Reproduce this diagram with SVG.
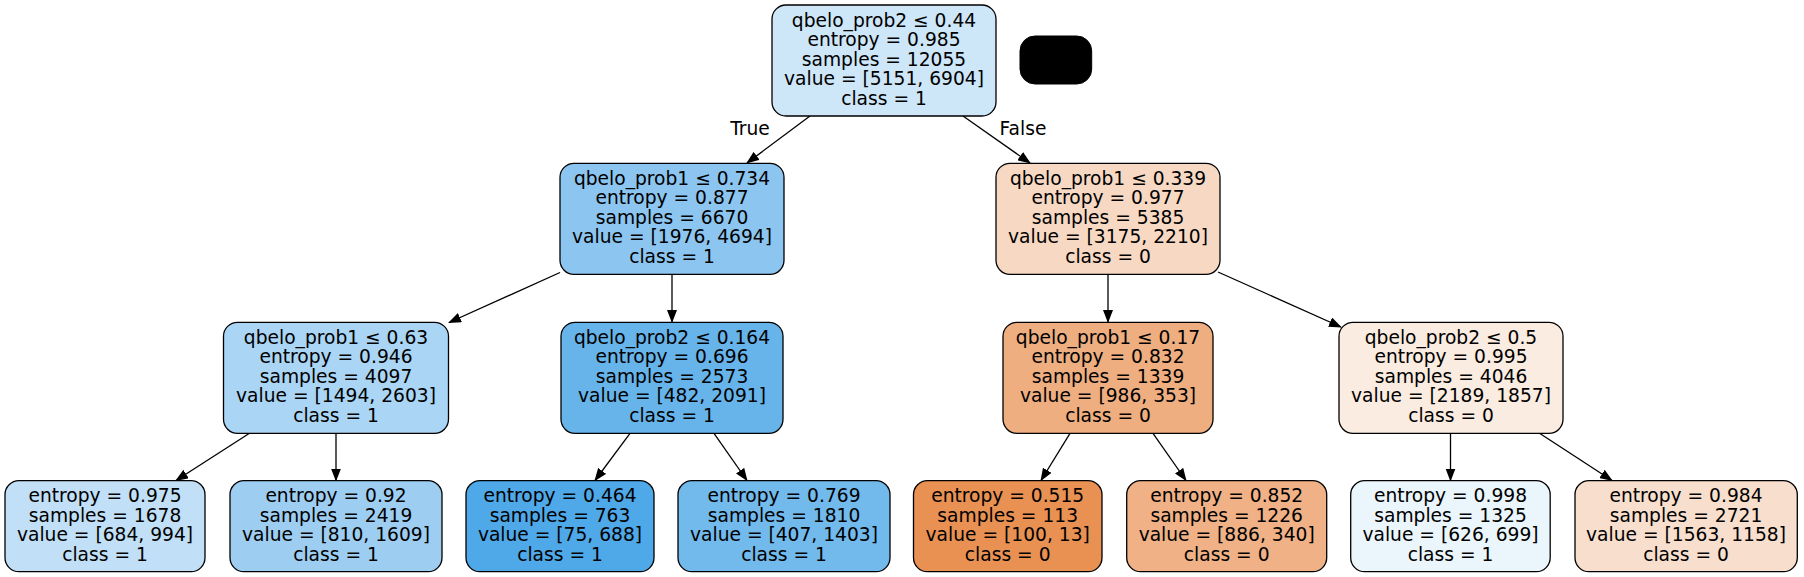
<svg xmlns="http://www.w3.org/2000/svg" width="1804" height="577" viewBox="0 0 1804 577">
<style>
.n{stroke:#000;stroke-width:1.3}
text{font-family:"DejaVu Sans","Liberation Sans",sans-serif;font-size:18.67px;fill:#000;text-anchor:middle}
.e{stroke:#000;stroke-width:1.3;fill:none;marker-end:url(#ah)}
</style>
<defs>
<marker id="ah" viewBox="0 0 13 10" refX="12" refY="5" markerWidth="13" markerHeight="10" markerUnits="userSpaceOnUse" orient="auto">
<path d="M0,0 L13,5 L0,10 z" fill="#000"/>
</marker>
</defs>
<rect width="1804" height="577" fill="#fff"/>
<g id="connectors">
<line class="e" x1="810" y1="116" x2="747" y2="163"/>
<line class="e" x1="963" y1="116" x2="1030" y2="163"/>
<line class="e" x1="560" y1="272.5" x2="449" y2="322.5"/>
<line class="e" x1="672" y1="274.3" x2="672" y2="322"/>
<line class="e" x1="1108" y1="274.3" x2="1108" y2="322"/>
<line class="e" x1="1218" y1="272" x2="1341" y2="327"/>
<line class="e" x1="249.5" y1="433.3" x2="176" y2="480.5"/>
<line class="e" x1="336" y1="433.3" x2="336" y2="480.5"/>
<line class="e" x1="630" y1="433.3" x2="595" y2="480.5"/>
<line class="e" x1="714" y1="433.3" x2="747" y2="480.5"/>
<line class="e" x1="1070" y1="433.3" x2="1041" y2="480.5"/>
<line class="e" x1="1153" y1="433.3" x2="1186" y2="480.5"/>
<line class="e" x1="1450.5" y1="433.3" x2="1450.5" y2="480.5"/>
<line class="e" x1="1539.5" y1="433.3" x2="1612" y2="480.5"/>
<text x="750" y="135">True</text>
<text x="1023" y="135">False</text>
</g>
<g id="legend"><rect x="1020" y="36" width="71.7" height="48" rx="15" fill="#000" stroke="#000"/></g>
<g id="n0"><rect class="n" x="772" y="5" width="224" height="111" rx="14" fill="#cde6f8"/>
<text x="884" y="26.5">qbelo_prob2 ≤ 0.44</text><text x="884" y="46">entropy = 0.985</text><text x="884" y="65.5">samples = 12055</text><text x="884" y="85">value = [5151, 6904]</text><text x="884" y="104.5">class = 1</text></g>
<g id="n1"><rect class="n" x="560" y="163.3" width="224" height="111" rx="14" fill="#8cc6f0"/>
<text x="672" y="184.8">qbelo_prob1 ≤ 0.734</text><text x="672" y="204.3">entropy = 0.877</text><text x="672" y="223.8">samples = 6670</text><text x="672" y="243.3">value = [1976, 4694]</text><text x="672" y="262.8">class = 1</text></g>
<g id="n2"><rect class="n" x="996" y="163.3" width="224" height="111" rx="14" fill="#f7d9c3"/>
<text x="1108" y="184.8">qbelo_prob1 ≤ 0.339</text><text x="1108" y="204.3">entropy = 0.977</text><text x="1108" y="223.8">samples = 5385</text><text x="1108" y="243.3">value = [3175, 2210]</text><text x="1108" y="262.8">class = 0</text></g>
<g id="n3"><rect class="n" x="223.5" y="322.3" width="225" height="111" rx="14" fill="#abd5f4"/>
<text x="336" y="343.8">qbelo_prob1 ≤ 0.63</text><text x="336" y="363.3">entropy = 0.946</text><text x="336" y="382.8">samples = 4097</text><text x="336" y="402.3">value = [1494, 2603]</text><text x="336" y="421.8">class = 1</text></g>
<g id="n4"><rect class="n" x="561" y="322.3" width="222" height="111" rx="14" fill="#67b4eb"/>
<text x="672" y="343.8">qbelo_prob2 ≤ 0.164</text><text x="672" y="363.3">entropy = 0.696</text><text x="672" y="382.8">samples = 2573</text><text x="672" y="402.3">value = [482, 2091]</text><text x="672" y="421.8">class = 1</text></g>
<g id="n5"><rect class="n" x="1003" y="322.3" width="210" height="111" rx="14" fill="#eeae80"/>
<text x="1108" y="343.8">qbelo_prob1 ≤ 0.17</text><text x="1108" y="363.3">entropy = 0.832</text><text x="1108" y="382.8">samples = 1339</text><text x="1108" y="402.3">value = [986, 353]</text><text x="1108" y="421.8">class = 0</text></g>
<g id="n6"><rect class="n" x="1339" y="322.3" width="224" height="111" rx="14" fill="#fbece1"/>
<text x="1451" y="343.8">qbelo_prob2 ≤ 0.5</text><text x="1451" y="363.3">entropy = 0.995</text><text x="1451" y="382.8">samples = 4046</text><text x="1451" y="402.3">value = [2189, 1857]</text><text x="1451" y="421.8">class = 0</text></g>
<g id="n7"><rect class="n" x="5" y="480.7" width="200" height="91" rx="14" fill="#c1e0f7"/>
<text x="105" y="502.2">entropy = 0.975</text><text x="105" y="521.7">samples = 1678</text><text x="105" y="541.2">value = [684, 994]</text><text x="105" y="560.7">class = 1</text></g>
<g id="n8"><rect class="n" x="230" y="480.7" width="212" height="91" rx="14" fill="#9dcef2"/>
<text x="336" y="502.2">entropy = 0.92</text><text x="336" y="521.7">samples = 2419</text><text x="336" y="541.2">value = [810, 1609]</text><text x="336" y="560.7">class = 1</text></g>
<g id="n9"><rect class="n" x="466" y="480.7" width="188" height="91" rx="14" fill="#4fa8e8"/>
<text x="560" y="502.2">entropy = 0.464</text><text x="560" y="521.7">samples = 763</text><text x="560" y="541.2">value = [75, 688]</text><text x="560" y="560.7">class = 1</text></g>
<g id="n10"><rect class="n" x="678" y="480.7" width="212" height="91" rx="14" fill="#72b9ec"/>
<text x="784" y="502.2">entropy = 0.769</text><text x="784" y="521.7">samples = 1810</text><text x="784" y="541.2">value = [407, 1403]</text><text x="784" y="560.7">class = 1</text></g>
<g id="n11"><rect class="n" x="913.5" y="480.7" width="188.5" height="91" rx="14" fill="#e89153"/>
<text x="1007.7" y="502.2">entropy = 0.515</text><text x="1007.7" y="521.7">samples = 113</text><text x="1007.7" y="541.2">value = [100, 13]</text><text x="1007.7" y="560.7">class = 0</text></g>
<g id="n12"><rect class="n" x="1126.7" y="480.7" width="200" height="91" rx="14" fill="#efb185"/>
<text x="1226.7" y="502.2">entropy = 0.852</text><text x="1226.7" y="521.7">samples = 1226</text><text x="1226.7" y="541.2">value = [886, 340]</text><text x="1226.7" y="560.7">class = 0</text></g>
<g id="n13"><rect class="n" x="1350.7" y="480.7" width="199.5" height="91" rx="14" fill="#eaf5fc"/>
<text x="1450.5" y="502.2">entropy = 0.998</text><text x="1450.5" y="521.7">samples = 1325</text><text x="1450.5" y="541.2">value = [626, 699]</text><text x="1450.5" y="560.7">class = 1</text></g>
<g id="n14"><rect class="n" x="1575" y="480.7" width="222.3" height="91" rx="14" fill="#f8decc"/>
<text x="1686" y="502.2">entropy = 0.984</text><text x="1686" y="521.7">samples = 2721</text><text x="1686" y="541.2">value = [1563, 1158]</text><text x="1686" y="560.7">class = 0</text></g>
</svg>
